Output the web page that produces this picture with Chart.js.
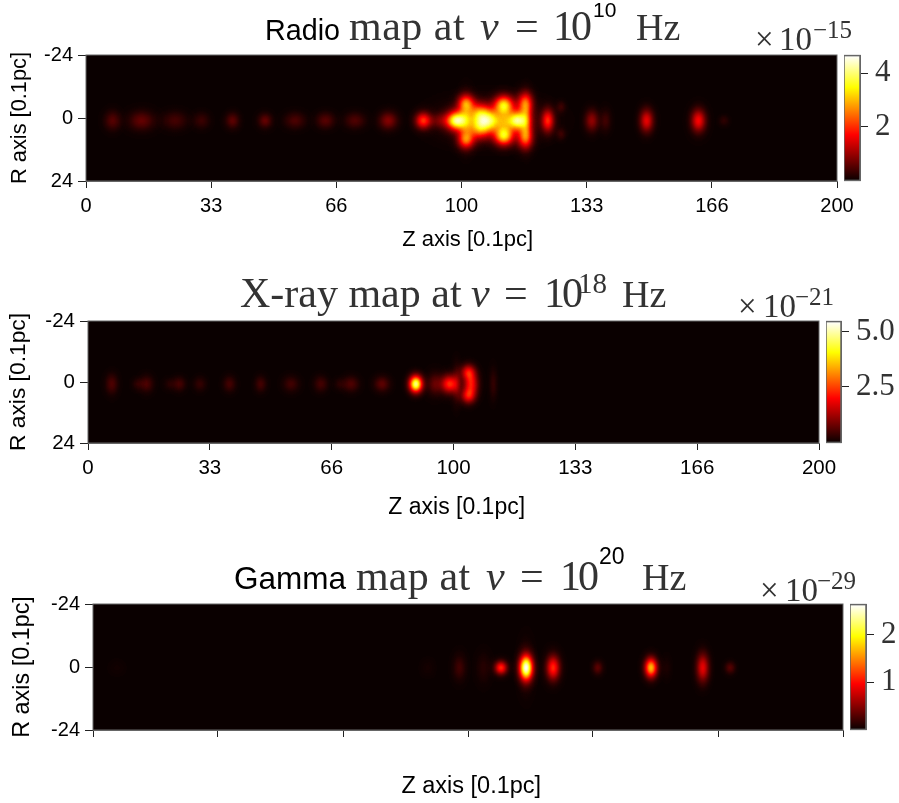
<!DOCTYPE html>
<html>
<head>
<meta charset="utf-8">
<style>
body { margin: 0; background: #fff; }
#page { position: relative; width: 899px; height: 803px; overflow: hidden; }
canvas { position: absolute; }
</style>
<script src="https://cdn.jsdelivr.net/npm/chart.js@4"></script>
</head>
<body>
<div id="page"></div>
<script>
// axis ticks, same on every panel
var zTicks = [0, 33.33, 66.67, 100, 133.33, 166.67, 200];
var zLabels = ['0', '33', '66', '100', '133', '166', '200'];
var noLabels = ['', '', '', '', '', '', ''];
var rTicks = [-24, 0, 24];
var rLabels = ['-24', '0', '24'];
var rLabelsGamma = ['-24', '0', '-24']; // the bottom label really says -24 on this panel

// emission knots: position, peak (fraction of colour bar), spread in axis units
var radioZ = [7.1, 14.8, 23.7, 30.8, 39, 47.7, 55.7, 63.8, 71.6, 80.5, 89.8, 95, 98.7, 101.2, 101.2, 101.2, 104.9, 104.9, 107.9, 111.3, 111.3, 111.6, 115, 116.9, 116.9, 117.3, 123, 126.5, 126.5, 134.7, 138.4, 149.3, 163.1, 169.9, 108];
var radioR = [1, 1, 1, 1, 1, 1, 1, 1, 1, 1, 1, 1, 1, -5.7, 8.4, 1, -1.5, 3.8, 1, -5, 6.9, 1, 1, -5.7, 7.6, 1, 1, -4.2, 6.1, 1, 1, 1, 1, 1, 1];
var radioPeak = [0.11, 0.13, 0.085, 0.07, 0.12, 0.13, 0.095, 0.11, 0.1, 0.18, 0.42, 0.14, 0.75, 0.42, 0.42, 0.3, 0.47, 0.47, 0.47, 0.65, 0.65, 0.25, 0.72, 0.42, 0.42, 0.28, 0.4, 0.07, 0.07, 0.2, 0.08, 0.33, 0.36, 0.05, 0.2];
var radioZWidth = [1.4, 2.2, 2.1, 1.4, 1.2, 1.2, 1.8, 1.6, 1.8, 1.6, 1.4, 2.4, 1.7, 1.5, 1.5, 1.3, 1.9, 1.9, 1.9, 1.7, 1.7, 1.5, 1.7, 1.4, 1.4, 1, 1.1, 0.8, 0.8, 1.2, 0.9, 1.2, 1.3, 0.9, 7.5];
var radioRWidth = [2.4, 2.4, 2.2, 2, 2, 1.8, 2, 2, 2, 2.2, 2.1, 1.9, 2.4, 2.2, 2.2, 5.3, 2.7, 2.7, 2.7, 2.4, 2.4, 2.9, 2.4, 2.8, 2.8, 5.3, 2.9, 1.5, 1.5, 2.7, 2.7, 2.9, 2.9, 1.3, 4.6];

var xrayZ = [6.5, 13.7, 16.1, 22.4, 25, 30.6, 38.7, 47.2, 55.5, 63.7, 68.9, 72, 80.4, 89.7, 94.9, 98.9, 100.9, 104, 104.8, 104, 110.9];
var xrayR = [0.8, 0.8, 0.8, 0.8, 0.8, 0.8, 0.8, 0.8, 0.8, 0.8, 0.8, 0.8, 0.8, 0.8, 0.8, 0.8, 0.8, -3.9, 0.8, 5.5, 0.8];
var xrayPeak = [0.1, 0.05, 0.09, 0.04, 0.085, 0.06, 0.085, 0.085, 0.08, 0.085, 0.04, 0.1, 0.12, 0.88, 0.13, 0.42, 0.12, 0.32, 0.38, 0.32, 0.06];
var xrayZWidth = [1.1, 1.1, 1.2, 1.1, 1.1, 1.1, 1.1, 1, 1.4, 1.2, 1.1, 1.4, 1.4, 1.2, 1.4, 1.5, 0.8, 1.3, 1.3, 1.3, 0.7];
var xrayRWidth = [2.6, 1.6, 2.2, 1.6, 1.8, 1.8, 2, 2, 2, 2, 1.6, 2, 2, 2.2, 2.8, 2.4, 4.7, 2, 3.1, 2, 3.9];

var gammaZ = [6.4, 89.3, 97.7, 104.1, 108.8, 115.5, 115.5, 122.7, 134.6, 148.8, 153, 162.6, 169.9];
var gammaR = [0.3, 0.3, 0.3, 0.3, 0.3, 0.3, 0.3, 0.3, 0.3, 0.3, 0.3, 0.3, 0.3];
var gammaPeak = [0.012, 0.015, 0.08, 0.04, 0.42, 0.92, 0.08, 0.42, 0.12, 0.65, 0.025, 0.33, 0.11];
var gammaZWidth = [1.3, 1.3, 1.1, 1.3, 1.1, 1.2, 1.2, 1.2, 0.9, 1.1, 0.8, 1.1, 0.9];
var gammaRWidth = [1.9, 2.3, 3.1, 3.8, 1.7, 3.1, 5.7, 3.1, 1.7, 2.5, 2.7, 3.6, 1.5];

// colour bars
var radioBarMax = 4.65, radioBarTicks = [2, 4], radioBarLabels = ['2', '4'];
var xrayBarMax = 5.45, xrayBarTicks = [2.5, 5], xrayBarLabels = ['2.5', '5.0'];
var gammaBarMax = 2.64, gammaBarTicks = [1, 2], gammaBarLabels = ['1', '2'];

// "hot" colour map
var hotStops = [0, 0.365, 0.746, 1];
var hotColors = [[10, 0, 0], [255, 0, 0], [255, 255, 0], [255, 255, 255]];

var SANS = '"Liberation Sans"';
var SERIF = '"Liberation Serif"';

// title pieces: text, x, baseline, size, family, italic, letter spacing
var radioTitle = [
    ['Radio', 265, 40, 28.7, SANS],
    ['map at', 349, 40, 42, SERIF, false, 0.5],
    ['\u03bd', 480, 40, 42, SERIF, true],
    ['=', 515, 40, 42, SERIF],
    ['10', 553, 40, 42, SERIF, false, -3],
    ['10', 593, 17, 21, SANS],
    ['Hz', 636, 40, 38, SERIF],
    ['\u00d7', 755, 50, 33, SERIF],
    ['10', 779, 50, 33, SERIF],
    ['\u221215', 813, 38, 25, SERIF]
];
var xrayTitle = [
    ['X-ray map at', 240, 307, 42, SERIF],
    ['\u03bd', 471, 307, 42, SERIF, true],
    ['=', 504, 307, 42, SERIF],
    ['10', 544, 307, 42, SERIF, false, -3],
    ['18', 578, 293, 29, SERIF],
    ['Hz', 622, 307, 38, SERIF],
    ['\u00d7', 738, 317, 33, SERIF],
    ['10', 763, 317, 33, SERIF],
    ['\u221221', 795, 305, 25, SERIF]
];
var gammaTitle = [
    ['Gamma', 234, 589, 31.5, SANS],
    ['map at', 356, 590, 42, SERIF, false, 0.2],
    ['\u03bd', 486, 590, 42, SERIF, true],
    ['=', 520, 590, 42, SERIF],
    ['10', 560, 590, 42, SERIF, false, -3],
    ['20', 599, 564, 23, SANS],
    ['Hz', 642, 590, 38, SERIF],
    ['\u00d7', 760, 601, 33, SERIF],
    ['10', 785, 601, 33, SERIF],
    ['\u221229', 817, 589, 25, SERIF]
];

Chart.defaults.animation = false;
Chart.defaults.font.family = SANS;
Chart.defaults.color = '#000';

var page = document.getElementById('page');

function addCanvas(left, top, width, height) {
    var c = document.createElement('canvas');
    c.width = width;
    c.height = height;
    c.style.left = left + 'px';
    c.style.top = top + 'px';
    c.style.width = width + 'px';
    c.style.height = height + 'px';
    page.appendChild(c);
    return c;
}

function hotColor(t) {
    var i = 0;
    while (i < hotStops.length - 2 && t > hotStops[i + 1]) i++;
    var f = Math.min(1, (t - hotStops[i]) / (hotStops[i + 1] - hotStops[i]));
    return [0, 1, 2].map(function (k) {
        return hotColors[i][k] + (hotColors[i + 1][k] - hotColors[i][k]) * f;
    });
}

// soft elliptical knot, white on transparent, added up on a black plot and recoloured afterwards
function knotSprite(peak, sx, sy) {
    var c = document.createElement('canvas');
    c.width = Math.ceil(sx * 7);
    c.height = Math.ceil(sy * 7);
    var g = c.getContext('2d');
    g.translate(c.width / 2, c.height / 2);
    g.scale(sx, sy);
    var grad = g.createRadialGradient(0, 0, 0, 0, 0, 3.4);
    for (var i = 0; i <= 20; i++) {
        var d = i / 20 * 3.4;
        var a = i == 20 ? 0 : peak * Math.exp(-d * d / 2);
        grad.addColorStop(i / 20, 'rgba(255,255,255,' + a.toFixed(4) + ')');
    }
    g.fillStyle = grad;
    g.fillRect(-3.5, -3.5, 7, 7);
    return c;
}

var heatPlugin = {
    id: 'heat',
    beforeDatasetsDraw: function (chart) {
        var a = chart.chartArea, ctx = chart.ctx;
        ctx.save();
        ctx.fillStyle = '#000';
        ctx.fillRect(a.left, a.top, a.right - a.left, a.bottom - a.top);
        ctx.restore();
        ctx.globalCompositeOperation = 'lighter';
    },
    afterDatasetsDraw: function (chart) {
        var a = chart.chartArea, ctx = chart.ctx;
        ctx.globalCompositeOperation = 'source-over';
        var x = Math.round(a.left), y = Math.round(a.top);
        var w = Math.round(a.right - a.left), h = Math.round(a.bottom - a.top);
        var img = ctx.getImageData(x, y, w, h);
        for (var i = 0; i < img.data.length; i += 4) {
            var col = hotColor(img.data[i] / 255);
            img.data[i] = col[0];
            img.data[i + 1] = col[1];
            img.data[i + 2] = col[2];
            img.data[i + 3] = 255;
        }
        ctx.putImageData(img, x, y);
    }
};

// frame round the plot and the title pieces
var framePlugin = {
    id: 'frame',
    afterDraw: function (chart, args, opts) {
        var a = chart.chartArea, ctx = chart.ctx;
        ctx.save();
        ctx.strokeStyle = '#666';
        ctx.lineWidth = opts.lineWidth || 1;
        ctx.strokeRect(a.left, a.top, a.right - a.left, a.bottom - a.top);
        var top = opts.top || 0;
        (opts.pieces || []).forEach(function (p) {
            ctx.font = (p[5] ? 'italic ' : '') + p[3] + 'px ' + p[4];
            ctx.letterSpacing = (p[6] || 0) + 'px';
            ctx.fillStyle = p[4] == SANS ? '#000' : '#333';
            ctx.textBaseline = 'alphabetic';
            ctx.fillText(p[0], p[1], p[2] - top);
        });
        ctx.restore();
    }
};

function drawPanel(p) {
    var c = addCanvas(0, p.top, 899, p.bottom - p.top);
    var sx = (p.right - p.left) / 200, sy = (p.plotBottom - p.plotTop) / 48;
    var sprites = p.z.map(function (v, i) {
        return knotSprite(p.peak[i], p.zWidth[i] * sx, p.rWidth[i] * sy);
    });
    new Chart(c, {
        type: 'scatter',
        data: {
            datasets: [{
                data: p.z.map(function (v, i) { return { x: v, y: p.r[i] }; }),
                pointStyle: sprites,
                pointRadius: 3
            }]
        },
        options: {
            responsive: false,
            layout: { autoPadding: false, padding: { top: p.plotTop - p.top, right: 899 - p.right, left: 0, bottom: 0 } },
            plugins: {
                legend: { display: false },
                tooltip: { enabled: false },
                frame: { pieces: p.title, top: p.top }
            },
            scales: {
                x: {
                    type: 'linear', min: 0, max: 200,
                    grid: { drawOnChartArea: false, tickLength: 7, color: '#222' },
                    border: { color: '#666' },
                    afterBuildTicks: function (s) { s.ticks = zTicks.map(function (v) { return { value: v }; }); },
                    afterFit: function (s) { s.height = p.bottom - p.plotBottom; },
                    ticks: {
                        autoSkip: false, maxRotation: 0, padding: 6, color: '#000',
                        font: { size: p.tickSize },
                        callback: function (v, i) { return p.zLabels[i]; }
                    },
                    title: { display: true, text: p.zTitle, font: { size: p.titleSize }, padding: 0, color: '#000' }
                },
                y: {
                    type: 'linear', min: -24, max: 24, reverse: true,
                    grid: { drawOnChartArea: false, tickLength: 8, color: '#222' },
                    border: { color: '#666' },
                    afterBuildTicks: function (s) { s.ticks = rTicks.map(function (v) { return { value: v }; }); },
                    afterFit: function (s) { s.width = p.left; },
                    ticks: {
                        autoSkip: false, padding: 5, color: '#000',
                        font: { size: p.tickSize },
                        callback: function (v, i) { return p.rLabels[i]; }
                    },
                    title: { display: true, text: 'R axis [0.1pc]', font: { size: p.rTitleSize }, padding: { top: p.rTitlePad, bottom: 0 }, color: '#000' }
                }
            }
        },
        plugins: [heatPlugin, framePlugin]
    });
}

function drawBar(b) {
    // pad has to stay bigger than half a tick label or the scale eats into the plot height
    var pad = 25, w = 899 - b.left, barW = b.right - b.left;
    var c = addCanvas(b.left, b.top - pad, w, b.bottom - b.top + pad * 2);
    new Chart(c, {
        type: 'bar',
        data: {
            labels: [''],
            datasets: [{
                data: [[0, b.max]],
                barPercentage: 1,
                categoryPercentage: 1,
                backgroundColor: function (ctx) {
                    var a = ctx.chart.chartArea;
                    if (!a) return '#000';
                    var g = ctx.chart.ctx.createLinearGradient(0, a.bottom, 0, a.top);
                    hotStops.forEach(function (t, i) {
                        g.addColorStop(t, 'rgb(' + hotColors[i].join(',') + ')');
                    });
                    return g;
                }
            }]
        },
        options: {
            responsive: false,
            layout: { autoPadding: false, padding: { top: pad, bottom: pad, left: 0, right: 0 } },
            plugins: { legend: { display: false }, tooltip: { enabled: false }, frame: { lineWidth: 1.5 } },
            scales: {
                x: { display: false },
                y: {
                    position: 'right', min: 0, max: b.max,
                    grid: { drawOnChartArea: false, tickLength: 8, color: '#222' },
                    border: { color: '#666' },
                    afterBuildTicks: function (s) { s.ticks = b.ticks.map(function (v) { return { value: v }; }); },
                    afterFit: function (s) { s.width = w - barW; },
                    ticks: {
                        padding: 7, color: '#333',
                        font: { family: SERIF, size: 31 },
                        callback: function (v, i) { return b.labels[i]; }
                    }
                }
            }
        },
        plugins: [framePlugin]
    });
}

drawPanel({
    top: 0, bottom: 253, left: 86, right: 837, plotTop: 55, plotBottom: 181,
    z: radioZ, r: radioR, peak: radioPeak, zWidth: radioZWidth, rWidth: radioRWidth,
    title: radioTitle, zLabels: zLabels, rLabels: rLabels,
    zTitle: '\u00a0\u00a0Z axis [0.1pc]', tickSize: 20, titleSize: 22, rTitleSize: 21.8, rTitlePad: 7
});
drawPanel({
    top: 268, bottom: 521, left: 88, right: 819, plotTop: 321, plotBottom: 443,
    z: xrayZ, r: xrayR, peak: xrayPeak, zWidth: xrayZWidth, rWidth: xrayRWidth,
    title: xrayTitle, zLabels: zLabels, rLabels: rLabels,
    zTitle: '\u00a0Z axis [0.1pc]', tickSize: 20.5, titleSize: 23, rTitleSize: 22.8, rTitlePad: 5
});
drawPanel({
    top: 540, bottom: 801, left: 93, right: 843, plotTop: 604, plotBottom: 730,
    z: gammaZ, r: gammaR, peak: gammaPeak, zWidth: gammaZWidth, rWidth: gammaRWidth,
    title: gammaTitle, zLabels: noLabels, rLabels: rLabelsGamma,
    zTitle: '\u00a0Z axis [0.1pc]', tickSize: 20, titleSize: 23.5, rTitleSize: 23.4, rTitlePad: 9
});

drawBar({ left: 844, right: 860, top: 55, bottom: 181, max: radioBarMax, ticks: radioBarTicks, labels: radioBarLabels });
drawBar({ left: 826, right: 841, top: 321, bottom: 443, max: xrayBarMax, ticks: xrayBarTicks, labels: xrayBarLabels });
drawBar({ left: 850, right: 866, top: 604, bottom: 730, max: gammaBarMax, ticks: gammaBarTicks, labels: gammaBarLabels });
</script>
</body>
</html>
